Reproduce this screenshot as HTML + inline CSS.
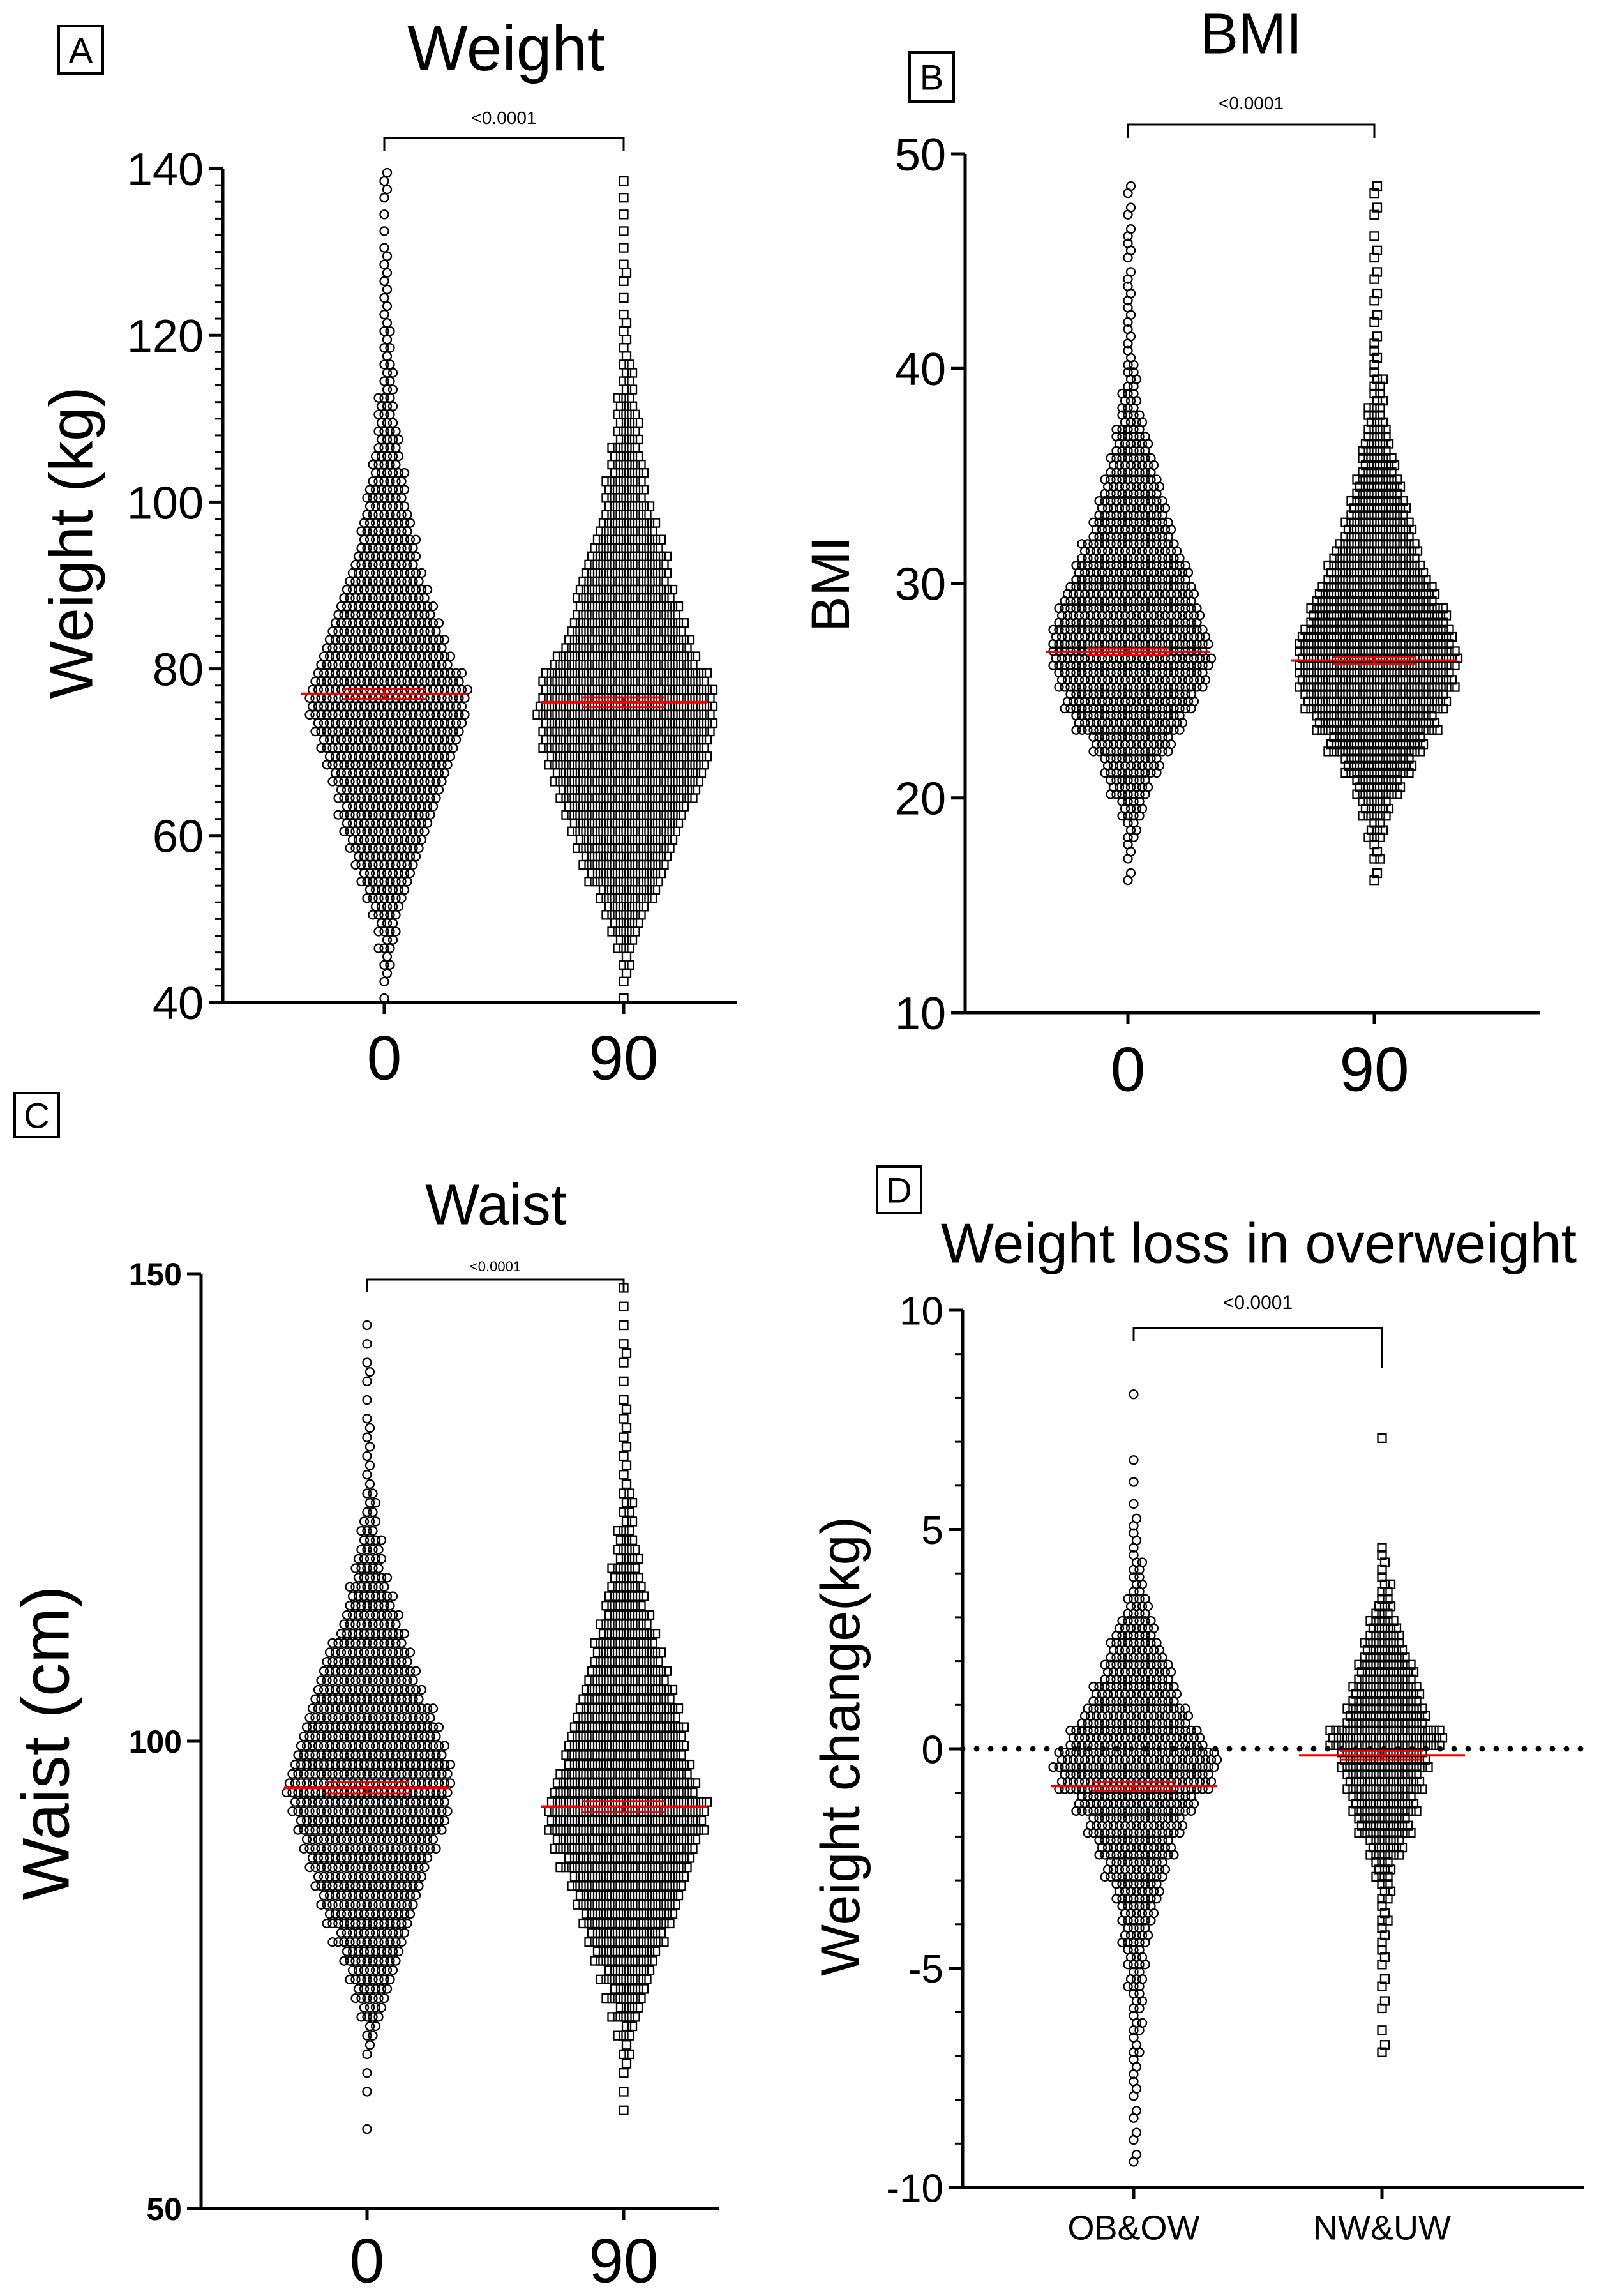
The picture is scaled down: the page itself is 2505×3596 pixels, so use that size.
<!DOCTYPE html>
<html><head><meta charset="utf-8"><style>
html,body{margin:0;padding:0;background:#fff}
svg{display:block}
text{font-family:"Liberation Sans",Arial,sans-serif;fill:#000}
</style></head>
<body>
<svg id="fig" width="2505" height="3596" viewBox="0 0 2505 3596" xmlns="http://www.w3.org/2000/svg"></svg>
<script>
const catsAB = ["0","90"];
const catsD = ["OB&OW","NW&UW"];
const weightBinStart = 40, weightBinStep = 2;
const weightDay0 = [1,2,3,5,7,10,14,18,22,26,30,33,36,40,44,48,52,55,56,52,46,42,38,34,30,26,22,20,18,15,14,12,10,8,7,6,5,4,3,3,3,2,2,2,2,1,1,1,2,2];
const weightDay90 = [1,2,3,6,10,14,20,26,30,34,38,42,48,52,56,58,60,62,60,58,50,44,40,36,34,30,28,24,20,16,14,13,11,9,8,7,5,4,3,2,2,1,1,2,1,1,1,1,1,1];
const weightMeans = [77, 76];
const bmiBinStart = 15, bmiBinStep = 1;
const bmiDay0 = [0,2,3,6,12,21,30,42,57,68,78,83,82,75,68,60,52,42,36,30,24,18,13,9,6,4,3,3,3,2,3,2,2,2,0];
const bmiDay90 = [0,2,4,8,15,24,36,50,64,75,82,84,80,72,62,52,44,36,30,24,18,14,10,7,5,3,2,2,2,2,2,1,2,2,0];
const bmiMeans = [26.8, 26.4];
const waistBinStart = 50, waistBinStep = 2;
const waistDay0 = [0,0,0,0,1,0,1,1,2,4,8,12,16,20,25,30,34,38,42,47,52,55,58,56,52,48,44,38,34,30,25,20,16,13,10,8,6,4,3,2,2,2,1,1,2,1,1,1,0,0];
const waistDay90 = [0,0,0,0,0,1,1,2,3,5,9,13,17,22,27,32,36,40,45,50,55,56,50,45,42,40,36,32,28,24,21,17,14,11,9,7,5,4,3,2,2,2,2,1,1,2,1,1,1,1];
const waistMeans = [95, 93];
const changeBinStart = -10, changeBinStep = 0.5;
const changeOB = [0,2,2,2,3,3,4,5,6,8,10,14,18,24,32,40,50,62,80,85,70,56,45,36,28,20,12,6,5,3,2,1,1,1,0,0,1,0,0,0];
const changeNW = [0,0,0,0,0,0,2,1,2,2,3,3,4,6,9,18,28,34,40,46,60,42,36,30,22,16,8,5,3,1,0,0,0,0,1,0,0,0,0,0];
const changeMeans = [-0.85, -0.15];

const NS="http://www.w3.org/2000/svg";
const svg=document.getElementById('fig');
function mk(tag,attrs,parent){const e=document.createElementNS(NS,tag);for(const k in attrs)e.setAttribute(k,attrs[k]);(parent||svg).appendChild(e);return e;}

function panel(P){
  const g=mk('g',{});
  
  
  const y=v=>P.yTop+(P.ymax-v)/(P.ymax-P.ymin)*(P.yBot-P.yTop);
  const bx=mk('rect',{x:P.box[0],y:P.box[1],width:P.box[2],height:P.box[3],fill:'none',stroke:'#000','stroke-width':4},g);
  
  
  const bl=mk('text',{x:P.box[0]+P.box[2]/2,y:P.box[1]+P.box[3]/2+20,'font-size':56,'text-anchor':'middle'},g);
  bl.textContent=P.letter;
  
  
  const t=mk('text',{x:P.title[0],y:P.title[1]+P.titleSize*0.36,'font-size':P.titleSize,'text-anchor':'middle'},g);
  t.textContent=P.titleText;
  
  
  const yl=mk('text',{x:0,y:0,'font-size':P.ylabSize,'text-anchor':'middle',transform:`translate(${P.ylab[0]+P.ylabSize*0.36},${P.ylab[1]}) rotate(-90)`},g);
  yl.textContent=P.ylabText;
  
  
  P.groups.forEach((grp,gi)=>{
    const cx=P.cx[gi];
    const sg=mk('g',{},g);
    
    
    const S=P.S, sp=9;
    grp.forEach((n,bi)=>{
      const v0=P.binStart+bi*P.binStep;
      for(let k=0;k<n;k++){
        const r=k%S, j=Math.floor(k/S);
        const off=(j===0?0:Math.ceil(j/2)*sp*(j%2?1:-1))+(r%2?sp/2:0);
        const vy=y(v0+P.binStep*(r+0.5)/S);
        let m;
        if(gi===0) m=mk('circle',{cx:cx+off,cy:vy,r:6.5,fill:'none',stroke:'#000','stroke-width':2.3},sg);
        else m=mk('rect',{x:cx+off-6.5,y:vy-6.5,width:13,height:13,fill:'none',stroke:'#000','stroke-width':2.3},sg);
        
        
      }
    });
  });
  if(P.zeroLine){
    const z=mk('line',{x1:P.axX,x2:P.xEnd,y1:y(0),y2:y(0),stroke:'#000','stroke-width':9,'stroke-dasharray':'0 22','stroke-linecap':'round'},g);
    
    
  }
  P.means.forEach((mv,gi)=>{
    const cx=P.cx[gi], hw=P.meanHW[gi];
    const ml=mk('line',{x1:cx-hw,x2:cx+hw,y1:y(mv),y2:y(mv),stroke:'#e00','stroke-width':4},g);
    
    
    const e=P.sem;
    const eb=mk('path',{d:`M${cx-hw/2},${y(mv+e)}H${cx+hw/2}M${cx-hw/2},${y(mv-e)}H${cx+hw/2}M${cx},${y(mv+e)}V${y(mv-e)}`,stroke:'#e00','stroke-width':3,fill:'none'},g);
    
    
  });
  const ax=mk('path',{d:`M${P.axX},${P.yTop}V${P.yBot}H${P.xEnd}`,stroke:'#000','stroke-width':5,fill:'none'},g);
  
  
  if(P.minor){
    for(let v=P.ymin;v<=P.ymax+1e-9;v+=P.minor){
      const mt=mk('line',{x1:P.axX-12,x2:P.axX,y1:y(v),y2:y(v),stroke:'#000','stroke-width':3},g);
      
      
    }
  }
  P.ticks.forEach(v=>{
    const tk=mk('line',{x1:P.axX-22,x2:P.axX,y1:y(v),y2:y(v),stroke:'#000','stroke-width':5},g);
    
    
    const tl=mk('text',{x:P.axX-30,y:y(v)+P.tickSize*0.36,'font-size':P.tickSize,'text-anchor':'end','font-weight':P.tickBold?'bold':'normal'},g);
    tl.textContent=String(v);
    
    
  });
  P.cats.forEach((c,i)=>{
    const tk=mk('line',{x1:P.cx[i],x2:P.cx[i],y1:P.yBot,y2:P.yBot+18,stroke:'#000','stroke-width':5},g);
    
    
    const tl=mk('text',{x:P.cx[i],y:P.catY+P.catSize*0.36,'font-size':P.catSize,'text-anchor':'middle'},g);
    tl.textContent=c;
    
    
  });
  const br=mk('path',{d:`M${P.cx[0]},${P.br[1]}V${P.br[0]}H${P.cx[1]}V${P.br[2]}`,stroke:'#000','stroke-width':3,fill:'none'},g);
  
  
  const pl=mk('text',{x:(P.cx[0]+P.cx[1])/2,y:P.br[3]+10,'font-size':P.pSize,'text-anchor':'middle'},g);
  pl.textContent='<0.0001';
  
  
}

panel({name:'panel-a-weight',letter:'A',box:[92,41,69,74],title:[793,74],titleText:'Weight',titleSize:100,
  ylab:[110,850],ylabText:'Weight (kg)',ylabSize:96,axX:349,yTop:264,yBot:1570,xEnd:1154,ymin:40,ymax:140,
  ticks:[40,60,80,100,120,140],minor:2,tickSize:72,cats:catsAB,cx:[602,977],catY:1655,catSize:98,
  groups:[weightDay0,weightDay90],binStart:weightBinStart,binStep:weightBinStep,S:2,
  means:weightMeans,meanHW:[130,130],sem:0.6,br:[216,237,237,184],pSize:28});
panel({name:'panel-b-bmi',letter:'B',box:[1425,82,69,77],title:[1960,51],titleText:'BMI',titleSize:90,
  ylab:[1300,915],ylabText:'BMI',ylabSize:84,axX:1512,yTop:241,yBot:1586,xEnd:2413,ymin:10,ymax:50,
  ticks:[10,20,30,40,50],minor:0,tickSize:72,cats:catsAB,cx:[1767,2153],catY:1673,catSize:98,
  groups:[bmiDay0,bmiDay90],binStart:bmiBinStart,binStep:bmiBinStep,S:3,
  means:bmiMeans,meanHW:[128,130],sem:0.15,br:[195,216,216,161],pSize:28});
panel({name:'panel-c-waist',letter:'C',box:[23,1712,69,69],title:[777,1885],titleText:'Waist',titleSize:90,
  ylab:[70,2730],ylabText:'Waist (cm)',ylabSize:104,axX:315,yTop:1995,yBot:3459,xEnd:1126,ymin:50,ymax:150,
  ticks:[50,100,150],minor:0,tickSize:50,tickBold:true,cats:catsAB,cx:[575,977],catY:3539,catSize:98,
  groups:[waistDay0,waistDay90],binStart:waistBinStart,binStep:waistBinStep,S:2,
  means:waistMeans,meanHW:[130,130],sem:0.6,br:[2004,2024,2024,1981],pSize:22});
panel({name:'panel-d-weight-change',letter:'D',box:[1374,1827,69,73],title:[1972,1946],titleText:'Weight loss in overweight',titleSize:88,
  ylab:[1315,2735],ylabText:'Weight change(kg)',ylabSize:86,axX:1508,yTop:2052,yBot:3426,xEnd:2482,ymin:-10,ymax:10,
  ticks:[-10,-5,0,5,10],minor:1,tickSize:62,cats:catsD,cx:[1776,2165],catY:3488,catSize:54,
  groups:[changeOB,changeNW],binStart:changeBinStart,binStep:changeBinStep,S:3,zeroLine:true,
  means:changeMeans,meanHW:[130,130],sem:0.1,br:[2080,2100,2142,2040],pSize:30});
</script>
</body></html>
